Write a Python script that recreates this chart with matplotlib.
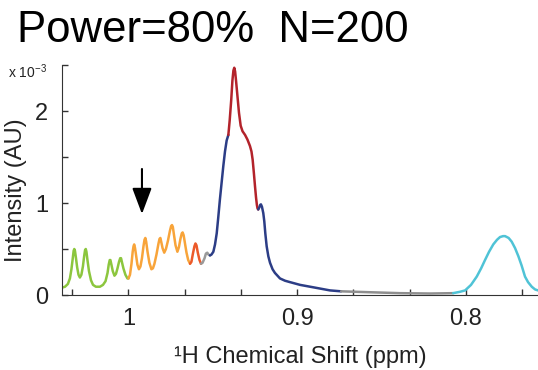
import matplotlib
matplotlib.use("Agg")
import matplotlib.pyplot as plt
import numpy as np

plt.rcParams['font.family'] = ['Liberation Sans', 'DejaVu Sans']
plt.rcParams['mathtext.fontset'] = 'custom'
plt.rcParams['mathtext.rm'] = 'Liberation Sans'

# spectrum (ppm, intensity x 1e-3)
ppm = [1.0394, 1.0376, 1.0359, 1.0347, 1.0338, 1.0330, 1.0325, 1.0321, 1.0317, 1.0311,
       1.0304, 1.0296, 1.0288, 1.0279, 1.0270, 1.0262, 1.0257, 1.0253, 1.0249, 1.0243,
       1.0234, 1.0222, 1.0210, 1.0193, 1.0169, 1.0151, 1.0136, 1.0124, 1.0117, 1.0111,
       1.0107, 1.0101, 1.0093, 1.0083, 1.0074, 1.0065, 1.0056, 1.0049, 1.0044, 1.0039,
       1.0030, 1.0018, 1.0006, 1.0000,
       0.9991, 0.9982, 0.9975, 0.9970, 0.9966, 0.9961, 0.9954, 0.9947, 0.9938, 0.9929,
       0.9920, 0.9911, 0.9905, 0.9900, 0.9895, 0.9887, 0.9876, 0.9864, 0.9855, 0.9846,
       0.9834, 0.9822, 0.9816, 0.9811, 0.9806, 0.9798, 0.9788, 0.9778, 0.9766, 0.9754,
       0.9747, 0.9742, 0.9737, 0.9730, 0.9721, 0.9710, 0.9701, 0.9692, 0.9684, 0.9679,
       0.9673, 0.9665, 0.9656, 0.9646, 0.9635,
       0.9627, 0.9618, 0.9609, 0.9603, 0.9597, 0.9589, 0.9579, 0.9570,
       0.9561, 0.9549, 0.9541, 0.9533, 0.9526, 0.9517,
       0.9508, 0.9497, 0.9487, 0.9477, 0.9468, 0.9458, 0.9448, 0.9438, 0.9428, 0.9418,
       0.9408,
       0.9400, 0.9391, 0.9384, 0.9378, 0.9373, 0.9368, 0.9362, 0.9355, 0.9345, 0.9335,
       0.9324, 0.9309, 0.9295, 0.9280, 0.9271, 0.9264, 0.9257, 0.9250, 0.9244, 0.9239,
       0.9235, 0.9231,
       0.9225, 0.9219, 0.9215, 0.9209, 0.9201, 0.9195, 0.9189, 0.9181, 0.9171, 0.9161,
       0.9146, 0.9132, 0.9102, 0.9072, 0.9043, 0.8983, 0.8894, 0.8806, 0.8740,
       0.8568, 0.8391, 0.8213, 0.8076,
       0.8035, 0.8005, 0.7970, 0.7936, 0.7910, 0.7887, 0.7863, 0.7838, 0.7816, 0.7798,
       0.7780, 0.7768, 0.7747, 0.7729, 0.7709, 0.7689, 0.7670, 0.7650, 0.7632, 0.7610,
       0.7590, 0.7573]
intensity = [0.08, 0.09, 0.12, 0.18, 0.28, 0.40, 0.48, 0.50, 0.48, 0.40,
             0.30, 0.22, 0.19, 0.22, 0.31, 0.43, 0.49, 0.50, 0.47, 0.38,
             0.26, 0.16, 0.11, 0.09, 0.09, 0.11, 0.15, 0.24, 0.33, 0.38,
             0.38, 0.33, 0.26, 0.21, 0.23, 0.29, 0.36, 0.40, 0.40, 0.36,
             0.29, 0.22, 0.18, 0.18,
             0.22, 0.34, 0.47, 0.53, 0.55, 0.51, 0.42, 0.33, 0.28, 0.31,
             0.40, 0.53, 0.60, 0.62, 0.58, 0.47, 0.35, 0.28, 0.29, 0.34,
             0.44, 0.56, 0.61, 0.62, 0.58, 0.51, 0.46, 0.50, 0.59, 0.70,
             0.75, 0.76, 0.74, 0.65, 0.54, 0.47, 0.52, 0.61, 0.67, 0.68,
             0.65, 0.56, 0.46, 0.38, 0.34,
             0.36, 0.45, 0.53, 0.56, 0.54, 0.46, 0.38, 0.34,
             0.35, 0.40, 0.45, 0.46, 0.44, 0.43,
             0.44, 0.47, 0.55, 0.67, 0.84, 1.04, 1.22, 1.40, 1.56, 1.68,
             1.74,
             1.90, 2.12, 2.33, 2.44, 2.47, 2.43, 2.32, 2.18, 1.98, 1.84,
             1.78, 1.74, 1.69, 1.62, 1.56, 1.47, 1.33, 1.18, 1.06, 0.98,
             0.94, 0.93,
             0.95, 0.98, 0.985, 0.96, 0.89, 0.80, 0.67, 0.53, 0.42, 0.35,
             0.28, 0.24, 0.18, 0.155, 0.14, 0.11, 0.08, 0.05, 0.04,
             0.03, 0.02, 0.016, 0.02,
             0.035, 0.05, 0.11, 0.20, 0.29, 0.38, 0.47, 0.55, 0.60, 0.63,
             0.64, 0.64, 0.62, 0.58, 0.51, 0.42, 0.32, 0.20, 0.14, 0.09,
             0.06, 0.05]

# coloured pieces: (from ppm, to ppm, colour)
segments = [(1.0394, 1.0000, '#8cc63e'),
            (1.0000, 0.9635, '#f8a43a'),
            (0.9635, 0.9570, '#ec5a2a'),
            (0.9570, 0.9517, '#9a9a9a'),
            (0.9517, 0.9408, '#2c3d86'),
            (0.9408, 0.9231, '#b3232b'),
            (0.9231, 0.8740, '#2c3d86'),
            (0.8740, 0.8076, '#8e8e8e'),
            (0.8076, 0.7573, '#4fc3d6')]

arrow_x = 0.992
arrow_top = 1.40
arrow_tip = 0.85

fig = plt.figure(figsize=(5.38, 3.7), dpi=100)
ax = fig.add_axes([0.1152, 0.2027, 0.8848, 0.6216])

x = np.array(ppm)
y = np.array(intensity)
for start, end, col in segments:
    m = (x <= start + 1e-6) & (x >= end - 1e-6)
    ax.plot(x[m], y[m], color=col, lw=1.8, solid_capstyle='round', solid_joinstyle='round')

ax.annotate('', xy=(arrow_x, arrow_tip), xytext=(arrow_x, arrow_top),
            arrowprops=dict(arrowstyle='-|>,head_length=0.8,head_width=0.3',
                            color='black', lw=1.5, mutation_scale=20))

ax.set_xlim(1.0394, 0.7573)
ax.set_ylim(0, 2.5)

ax.spines['top'].set_visible(False)
ax.spines['right'].set_visible(False)
ax.spines['left'].set_color('#333333')
ax.spines['bottom'].set_color('#333333')

xt = [1 + 1 / 30 - k / 30 for k in range(9)]
ax.set_xticks(xt)
ax.set_xticklabels(['' if abs(v - round(v, 1)) > 1e-6 else ('1' if abs(v - 1) < 1e-6 else '%.1f' % v) for v in xt])
ax.set_yticks([0, 0.5, 1, 1.5, 2, 2.5])
ax.set_yticklabels(['0', '', '1', '', '2', ''])
ax.tick_params(direction='in', length=4, width=1, colors='#333333', labelsize=17, labelcolor='#222222')
ax.tick_params(axis='y', pad=10)
ax.tick_params(axis='x', pad=9)

ax.set_ylabel('Intensity (AU)', fontsize=17, color='#222222')
ax.yaxis.set_label_coords(-0.0735, 0.457)
ax.set_xlabel('¹H Chemical Shift (ppm)', fontsize=17, color='#222222', labelpad=12)

fig.text(0.0316, 0.8865, 'Power=80%  N=200', fontsize=31.5, va='baseline', ha='left')
fig.text(0.015, 0.805, r'x 10$^{-3}$', fontsize=10, va='center', ha='left', color='#222222')

fig.savefig('out.png', dpi=100)
